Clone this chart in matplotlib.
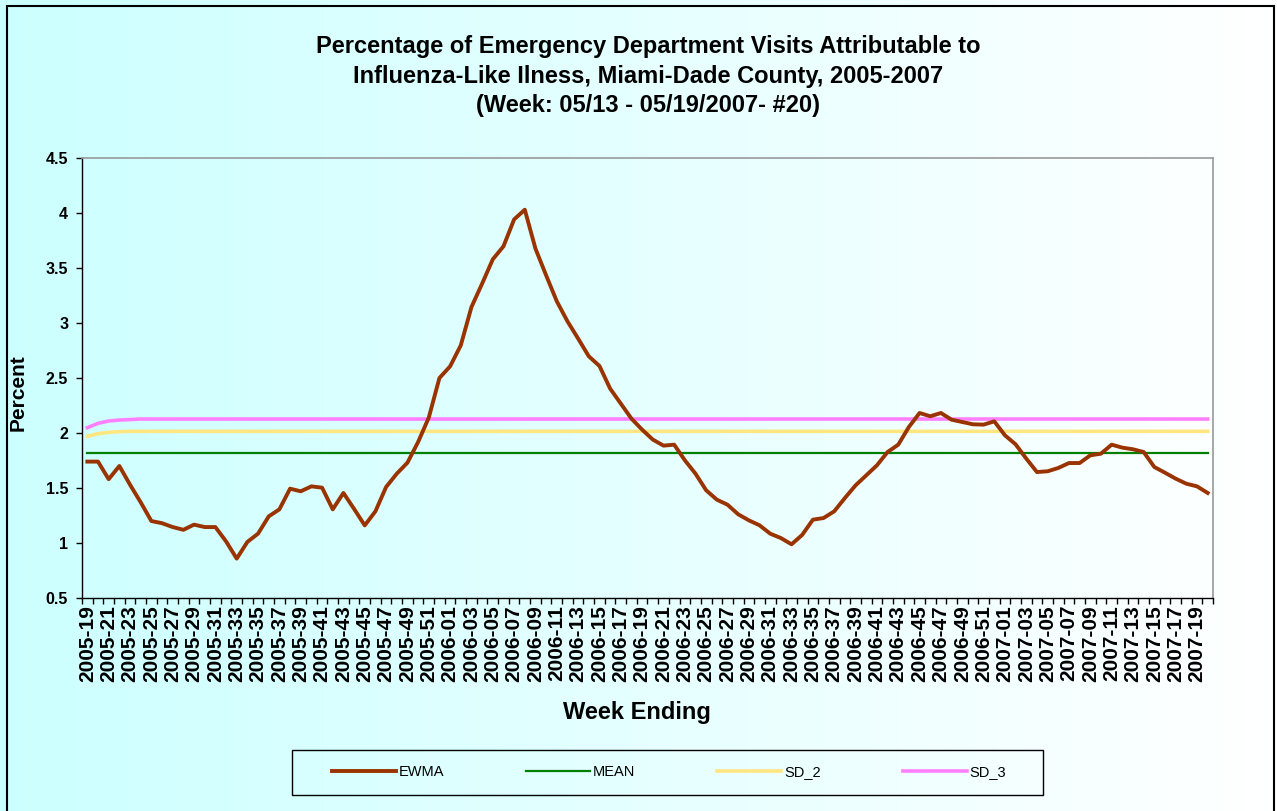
import numpy as np
import matplotlib
matplotlib.use("Agg")
import matplotlib.pyplot as plt
from matplotlib.patches import Rectangle

plt.rcParams['font.family'] = ['Liberation Sans', 'DejaVu Sans']

# Data
years = [2005] * 34 + [2006] * 52 + [2007] * 20
weeks = list(range(19, 53)) + list(range(1, 53)) + list(range(1, 21))
week_labels = [f"{y}-{w:02d}" for y, w in zip(years, weeks)]

ewma = [1.74, 1.74, 1.58, 1.70, 1.53, 1.37, 1.20, 1.18, 1.145, 1.12,
        1.167, 1.145, 1.145, 1.015, 0.858, 1.01, 1.085, 1.242, 1.306, 1.494,
        1.47, 1.515, 1.503, 1.306, 1.455, 1.31, 1.16, 1.288, 1.509, 1.63,
        1.73, 1.918, 2.14, 2.50, 2.606, 2.797, 3.145, 3.358, 3.579, 3.697,
        3.942, 4.03, 3.676, 3.433, 3.197, 3.015, 2.858, 2.697, 2.609, 2.403,
        2.267, 2.13, 2.03, 1.94, 1.885, 1.894, 1.752, 1.63, 1.479, 1.394,
        1.348, 1.261, 1.206, 1.161, 1.085, 1.045, 0.988, 1.074, 1.212, 1.227,
        1.288, 1.409, 1.524, 1.615, 1.706, 1.827, 1.894, 2.055, 2.182, 2.152,
        2.182, 2.121, 2.10, 2.079, 2.076, 2.106, 1.979, 1.897, 1.767, 1.645,
        1.652, 1.682, 1.727, 1.727, 1.797, 1.812, 1.894, 1.867, 1.852, 1.827,
        1.691, 1.639, 1.585, 1.539, 1.515, 1.455]
mean = [1.818] * 106
sd_2 = [1.97, 1.994, 2.006, 2.012] + [2.015] * 102
sd_3 = [2.048, 2.088, 2.109, 2.118, 2.122] + [2.127] * 101

x = np.arange(len(week_labels))

fig = plt.figure(figsize=(12.77, 8.11), dpi=100)

# background gradient cyan -> white
bg = fig.add_axes([0, 0, 1, 1], zorder=-10)
grad = np.linspace(0, 1, 256).reshape(1, -1)
c0 = np.array([0xCC, 0xFF, 0xFF]) / 255
c1 = np.array([1.0, 1.0, 1.0])
img = c0[None, None, :] * (1 - grad[..., None]) + c1[None, None, :] * grad[..., None]
bg.imshow(img, aspect='auto', extent=[0, 1, 0, 1])
bg.axis('off')

ax = fig.add_axes([82 / 1277, 1 - 598 / 811, (1213 - 82) / 1277, (598 - 158) / 811])
ax.set_facecolor('none')

ax.plot(x, ewma, color='#993300', lw=2.8, label='EWMA', zorder=5)
ax.plot(x, mean, color='#008000', lw=1.6, label='MEAN', zorder=3)
ax.plot(x, sd_2, color='#FFE680', lw=2.6, label='SD_2', zorder=3)
ax.plot(x, sd_3, color='#FF80FF', lw=2.6, label='SD_3', zorder=4)

ax.set_xlim(-0.5, len(x) - 0.5)
ax.set_ylim(0.5, 4.5)
ax.set_yticks(np.arange(0.5, 4.51, 0.5))
ax.set_yticklabels([f"{v:g}" for v in np.arange(0.5, 4.51, 0.5)],
                   fontsize=11.5, fontweight='bold')
ax.tick_params(axis='y', direction='out', length=4, width=1, pad=6)

ax.set_xticks(np.arange(-0.5, len(x), 1.0))
ax.set_xticklabels([])
ax.tick_params(axis='x', which='major', direction='out', length=4, width=1)
ax.set_xticks(x[::2], minor=True)
ax.set_xticklabels(week_labels[::2], minor=True, rotation=90,
                   fontsize=15, fontweight='bold')
ax.tick_params(axis='x', which='minor', length=0, pad=5)

for s in ['top', 'right']:
    ax.spines[s].set_color('#999999')
    ax.spines[s].set_linewidth(1.2)
for s in ['left', 'bottom']:
    ax.spines[s].set_color('black')
    ax.spines[s].set_linewidth(1)

ax.set_ylabel('Percent', fontsize=15, fontweight='bold')
ax.yaxis.set_label_coords(-0.0477, 0.466)
fig.text(637 / 1277, 1 - 712 / 811, 'Week Ending', fontsize=17,
         fontweight='bold', ha='center', va='center')

fig.text(648 / 1277, 1 - 76 / 811,
         'Percentage of Emergency Department Visits Attributable to\n'
         'Influenza-Like Ilness, Miami-Dade County, 2005-2007\n'
         '(Week: 05/13 - 05/19/2007- #20)',
         fontsize=17, fontweight='bold', ha='center', va='center',
         linespacing=1.36)

# legend box drawn separately, entries centred inside it
fig.patches.append(Rectangle((292 / 1277, 1 - 795 / 811), 751 / 1277, 45 / 811,
                             transform=fig.transFigure, fill=False,
                             edgecolor='black', lw=1))
leg = ax.legend(loc='center', ncol=4, bbox_to_anchor=(669 / 1277, 1 - 772 / 811),
                bbox_transform=fig.transFigure, fontsize=10.5, frameon=False,
                handlelength=4.4, handletextpad=0.2, columnspacing=5.6,
                borderaxespad=0)

# outer chart border
fig.patches.append(Rectangle((7 / 1277, -0.01), 1267 / 1277, 1 - 6 / 811 + 0.01,
                             transform=fig.transFigure, fill=False,
                             edgecolor='black', lw=1.5))

fig.savefig('out.png', dpi=100)
